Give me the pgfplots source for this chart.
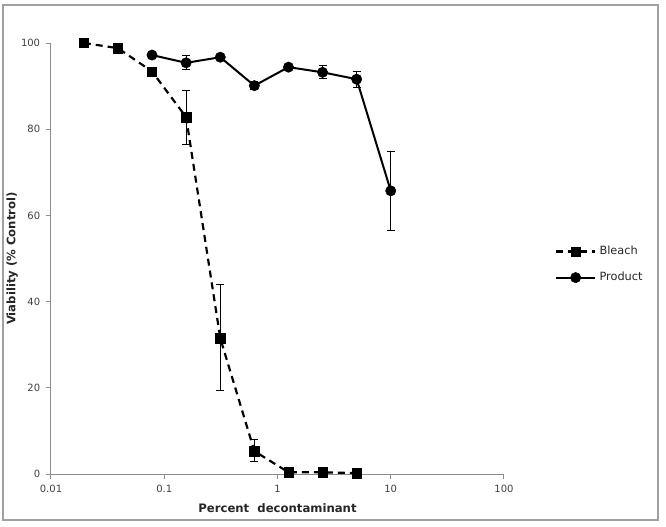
\documentclass[border=0pt]{standalone}
\usepackage{pgfplots}
\pgfplotsset{compat=1.18}
\usepackage{fontspec}
\setmainfont{DejaVu Sans}

\definecolor{axgray}{HTML}{8C8C8C}
\definecolor{ticktxt}{HTML}{404040}
\definecolor{frame}{HTML}{A0A0A0}

\pgfplotstableread{
x      y     ep    em
0.0195 100.0 0     0
0.039  98.8  0     0
0.078  93.4  0     0
0.156  82.8  6.1   6.3
0.3125 31.5  12.4  12.2
0.625  5.3   2.6   2.4
1.25   0.4   0     0
2.5    0.4   0     0
5      0.2   0     0
}\bleach

\pgfplotstableread{
x      y     ep    em
0.078  97.2  0     0
0.156  95.4  1.6   1.5
0.3125 96.7  0     0
0.625  90.1  1.0   1.0
1.25   94.4  0     0
2.5    93.2  1.5   1.5
5      91.6  1.9   2.0
10     65.7  9.1   9.1
}\product

\begin{document}
\begin{tikzpicture}
% page = 666 x 527 px, 1px = 0.6pt
\path (0pt,0pt) rectangle (399.6pt,-316.2pt);
\draw[frame, line width=0.8pt] (1.8pt,-3pt) rectangle (394.8pt,-312pt);
\begin{axis}[
    at={(30.6pt,-284.4pt)}, anchor=south west,
    scale only axis, width=271.8pt, height=258.6pt,
    xmode=log, log basis x=10,
    xmin=0.01, xmax=100, ymin=0, ymax=100,
    axis x line=bottom, axis y line=left,
    axis line style={axgray, line width=0.6pt, -},
    xtick={0.01,0.1,1,10,100},
    xticklabels={0.01,0.1,1,10,100},
    ytick={0,20,40,60,80,100},
    minor tick num=0, minor xtick={},
    tick align=outside, tick style={axgray, line width=0.6pt},
    major tick length=3pt,
    ticklabel style={font=\fontsize{6}{7}\selectfont, text=ticktxt},
    /pgf/number format/assume math mode=true,
    xlabel={Percent\ \ decontaminant},
    ylabel={Viability (\% Control)},
    label style={font=\fontsize{7}{8}\selectfont\bfseries, text=black!85},
    ylabel style={yshift=-5pt},
    clip=false,
    legend style={at={(1.112,0.486)}, anchor=west, draw=none, fill=none,
        inner sep=0pt, font=\fontsize{6.8}{8}\selectfont, text=black!85,
        row sep=5pt},
    legend cell align=left,
    legend image code/.code={\draw[mark repeat=2,mark phase=2,#1] plot coordinates {(0pt,0pt) (11.7pt,0pt) (23.4pt,0pt)};},
    error bars/y dir=both, error bars/y explicit,
    error bars/error bar style={black, line width=0.6pt, solid},
    error bars/error mark options={rotate=90, mark size=2.4pt, line width=0.6pt, solid},
]
\addplot[black, line width=1.3pt, dash pattern=on 4.2pt off 3pt,
    mark=square*, mark size=2.8pt, mark options={solid, line width=0.3pt}]
    table[x=x, y=y, y error plus=ep, y error minus=em] {\bleach};
\addlegendentry{Bleach}
\addplot[black, line width=1.2pt, mark=*, mark size=3.1pt, mark options={solid, line width=0.3pt}]
    table[x=x, y=y, y error plus=ep, y error minus=em] {\product};
\addlegendentry{Product}
\end{axis}
\end{tikzpicture}
\end{document}
